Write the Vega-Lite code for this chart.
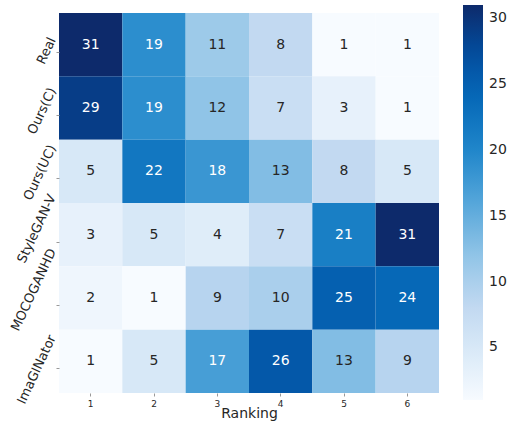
{
  "$schema": "https://vega.github.io/schema/vega-lite/v6.json",
  "width": 380,
  "height": 380,
  "autosize": {"type": "none"},
  "padding": {"left": 59, "top": 13, "right": 69, "bottom": 30},
  "background": "white",
  "config": {"view": {"stroke": null}, "font": "DejaVu Sans"},
  "data": {
    "values": [
      {"model": "Real", "rank": 1, "count": 31},
      {"model": "Real", "rank": 2, "count": 19},
      {"model": "Real", "rank": 3, "count": 11},
      {"model": "Real", "rank": 4, "count": 8},
      {"model": "Real", "rank": 5, "count": 1},
      {"model": "Real", "rank": 6, "count": 1},
      {"model": "Ours(C)", "rank": 1, "count": 29},
      {"model": "Ours(C)", "rank": 2, "count": 19},
      {"model": "Ours(C)", "rank": 3, "count": 12},
      {"model": "Ours(C)", "rank": 4, "count": 7},
      {"model": "Ours(C)", "rank": 5, "count": 3},
      {"model": "Ours(C)", "rank": 6, "count": 1},
      {"model": "Ours(UC)", "rank": 1, "count": 5},
      {"model": "Ours(UC)", "rank": 2, "count": 22},
      {"model": "Ours(UC)", "rank": 3, "count": 18},
      {"model": "Ours(UC)", "rank": 4, "count": 13},
      {"model": "Ours(UC)", "rank": 5, "count": 8},
      {"model": "Ours(UC)", "rank": 6, "count": 5},
      {"model": "StyleGAN-V", "rank": 1, "count": 3},
      {"model": "StyleGAN-V", "rank": 2, "count": 5},
      {"model": "StyleGAN-V", "rank": 3, "count": 4},
      {"model": "StyleGAN-V", "rank": 4, "count": 7},
      {"model": "StyleGAN-V", "rank": 5, "count": 21},
      {"model": "StyleGAN-V", "rank": 6, "count": 31},
      {"model": "MOCOGANHD", "rank": 1, "count": 2},
      {"model": "MOCOGANHD", "rank": 2, "count": 1},
      {"model": "MOCOGANHD", "rank": 3, "count": 9},
      {"model": "MOCOGANHD", "rank": 4, "count": 10},
      {"model": "MOCOGANHD", "rank": 5, "count": 25},
      {"model": "MOCOGANHD", "rank": 6, "count": 24},
      {"model": "ImaGINator", "rank": 1, "count": 1},
      {"model": "ImaGINator", "rank": 2, "count": 5},
      {"model": "ImaGINator", "rank": 3, "count": 17},
      {"model": "ImaGINator", "rank": 4, "count": 26},
      {"model": "ImaGINator", "rank": 5, "count": 13},
      {"model": "ImaGINator", "rank": 6, "count": 9}
    ]
  },
  "encoding": {
    "x": {
      "field": "rank",
      "type": "ordinal",
      "title": "Ranking",
      "scale": {"paddingInner": 0, "paddingOuter": 0},
      "axis": {
        "labelAngle": 0,
        "labelFontSize": 9,
        "labelColor": "#262626",
        "labelPadding": 3,
        "tickSize": 3,
        "tickColor": "#999999",
        "domain": false,
        "titleFontSize": 14,
        "titleFontWeight": "normal",
        "titleColor": "#262626",
        "titlePadding": -2
      }
    },
    "y": {
      "field": "model",
      "type": "nominal",
      "sort": ["Real", "Ours(C)", "Ours(UC)", "StyleGAN-V", "MOCOGANHD", "ImaGINator"],
      "title": null,
      "scale": {"paddingInner": 0, "paddingOuter": 0},
      "axis": {
        "labelAngle": -65,
        "labelAlign": "right",
        "labelBaseline": "middle",
        "labelFontSize": 13,
        "labelColor": "#262626",
        "labelPadding": 4,
        "tickSize": 3,
        "tickColor": "#999999",
        "tickOffset": 7,
        "domain": false,
        "labelOffset": {
          "condition": [
            {"test": "datum.value === 'Real'", "value": -14},
            {"test": "datum.value === 'Ours(C)'", "value": -27},
            {"test": "datum.value === 'Ours(UC)'", "value": -33},
            {"test": "datum.value === 'StyleGAN-V'", "value": -47},
            {"test": "datum.value === 'MOCOGANHD'", "value": -56}
          ],
          "value": -33
        }
      }
    }
  },
  "layer": [
    {
      "mark": {"type": "rect"},
      "encoding": {
        "color": {
          "field": "count",
          "type": "quantitative",
          "scale": {
            "domain": [1, 31],
            "range": ["#f7fbff", "#d9e9f8", "#bed7f0", "#8dc3e6", "#55a6da", "#2288cb", "#076cba", "#024ea0", "#0d2a6b"],
            "interpolate": "rgb"
          },
          "legend": {
            "orient": "none",
            "legendX": 404,
            "legendY": -8,
            "direction": "vertical",
            "gradientLength": 395,
            "gradientThickness": 20,
            "gradientStrokeWidth": 0,
            "title": null,
            "values": [5, 10, 15, 20, 25, 30],
            "labelFontSize": 14,
            "labelColor": "#262626",
            "labelOffset": 6,
            "labelOverlap": false
          }
        }
      }
    },
    {
      "mark": {"type": "text", "fontSize": 14},
      "encoding": {
        "text": {"field": "count", "type": "quantitative"},
        "color": {
          "condition": {"test": "datum.count > 15", "value": "white"},
          "value": "#262626"
        }
      }
    }
  ]
}
